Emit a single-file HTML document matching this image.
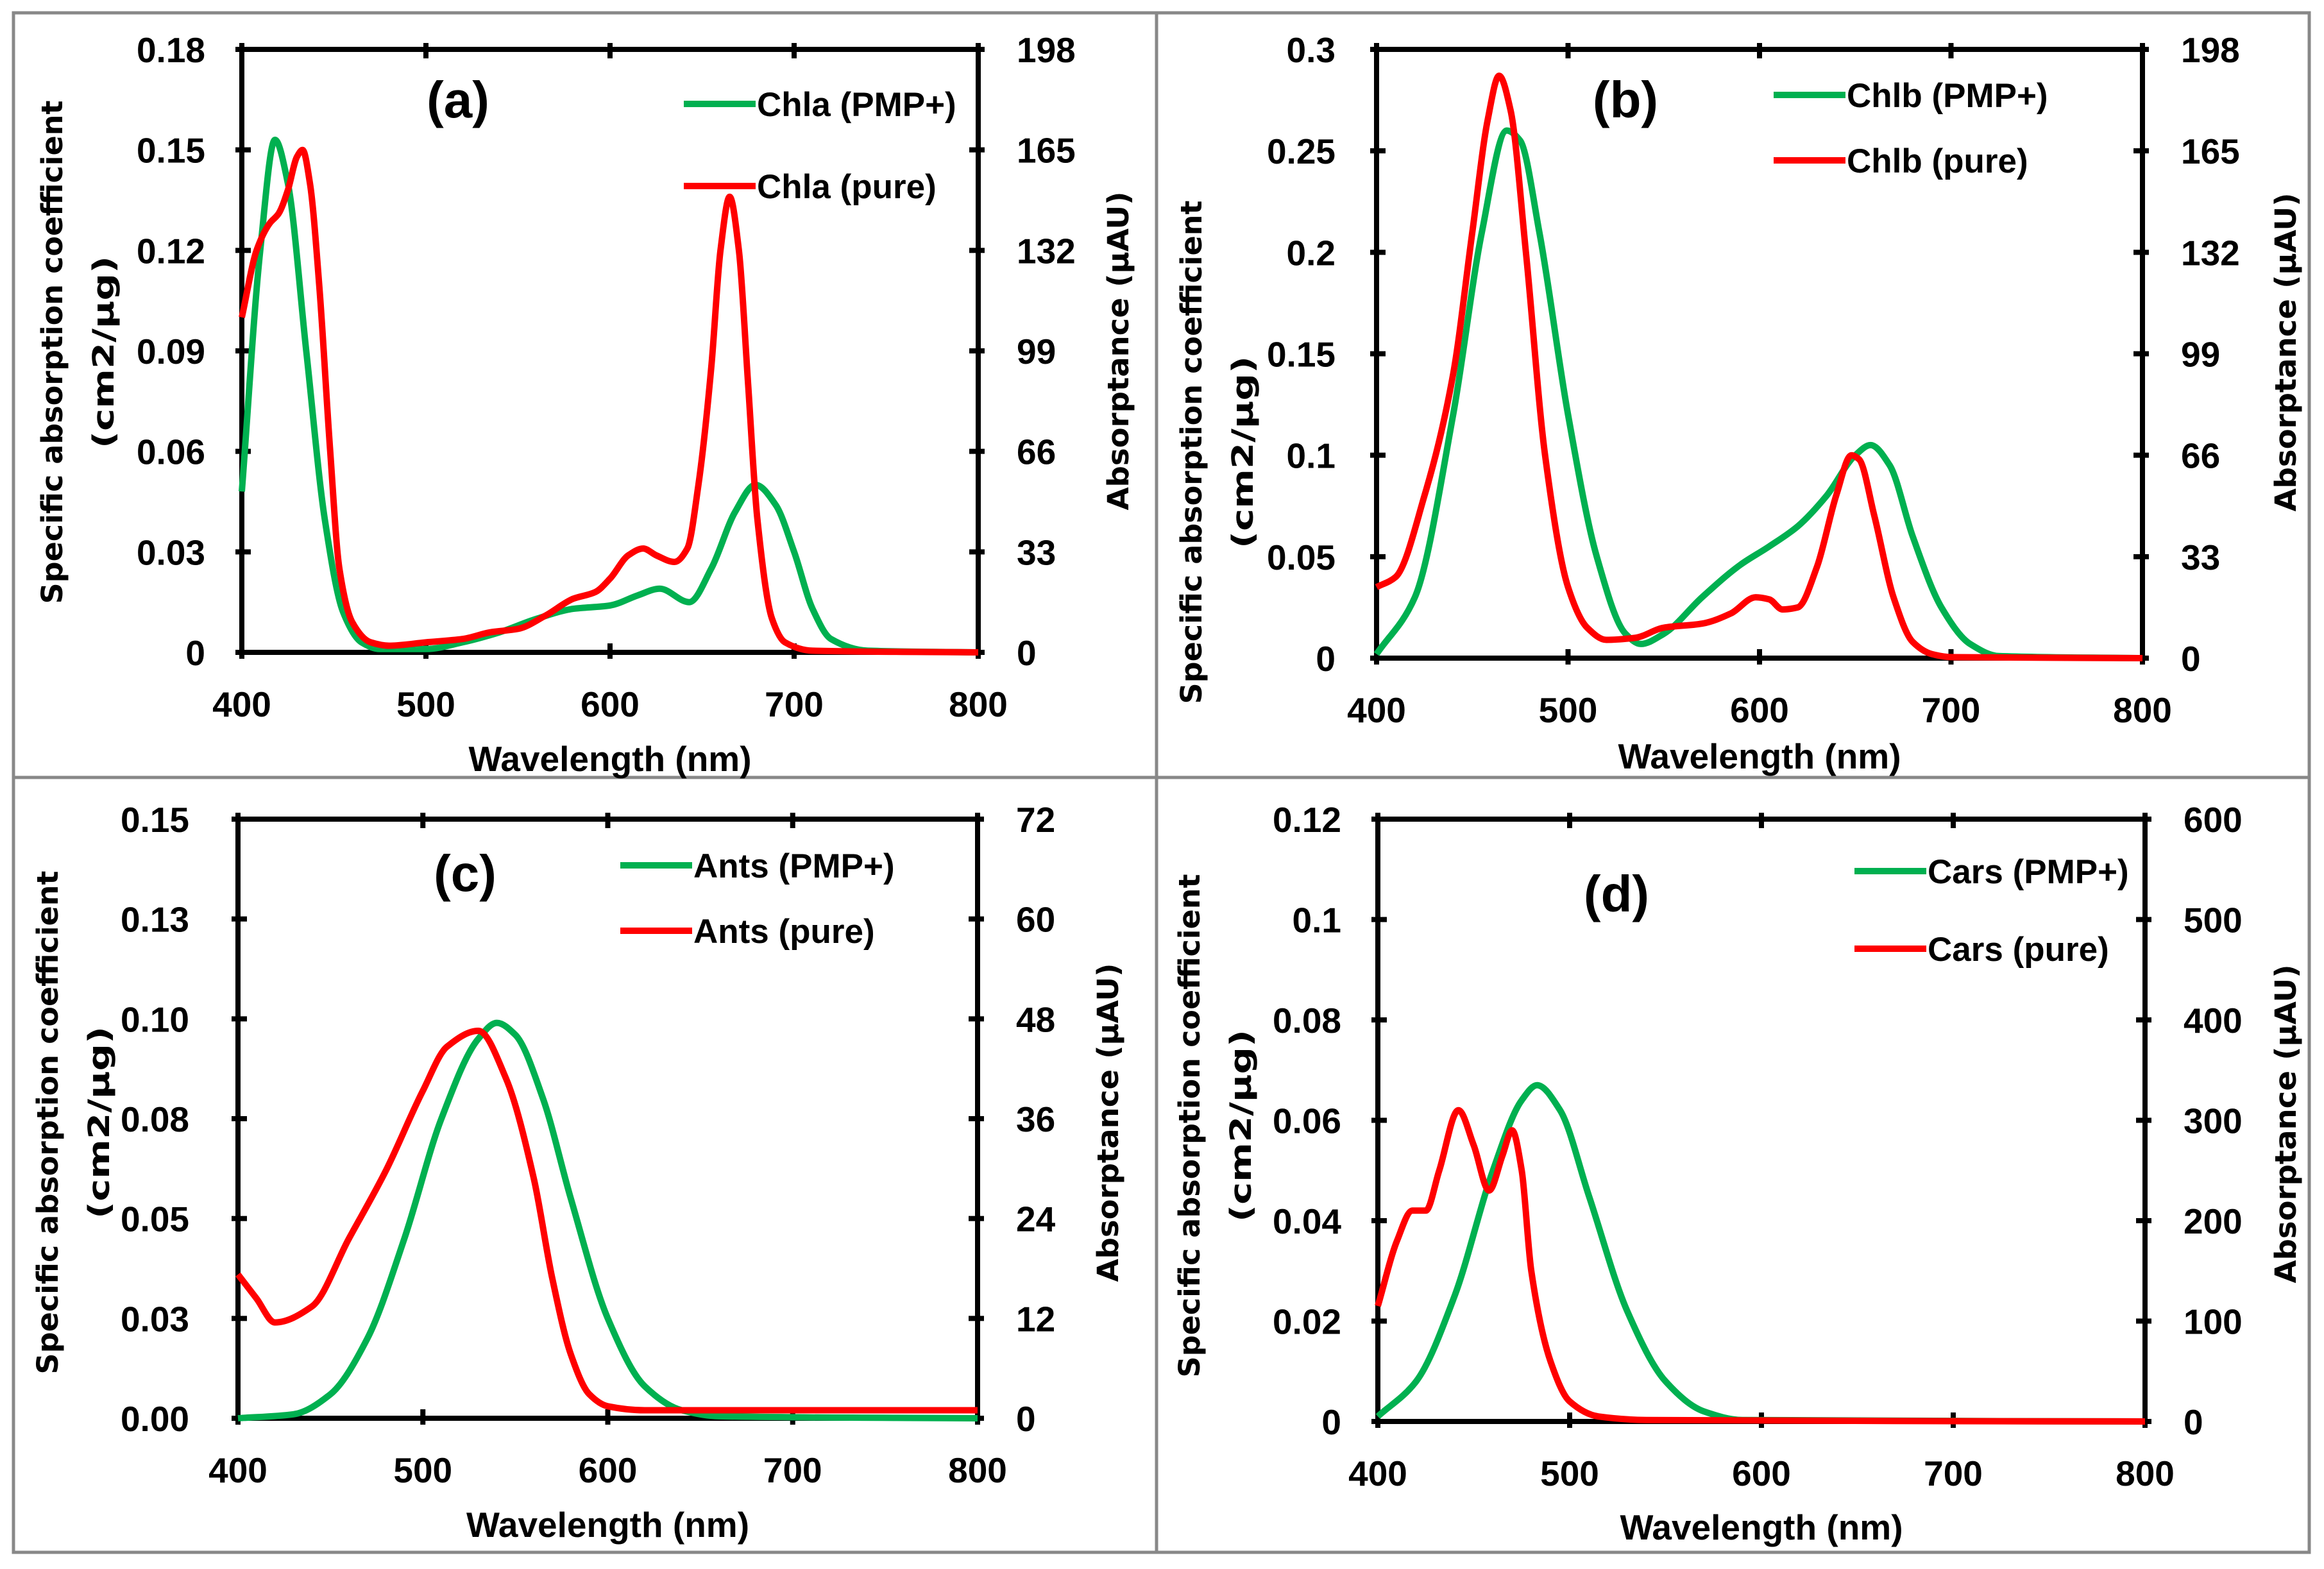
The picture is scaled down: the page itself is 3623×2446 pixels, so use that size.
<!DOCTYPE html>
<html><head><meta charset="utf-8"><style>
html,body{margin:0;padding:0;background:#fff}
svg{display:block}
text{font-family:"Liberation Sans",sans-serif;font-weight:bold;fill:#000}
.yt{font-family:"DejaVu Sans","Liberation Sans",sans-serif}
</style></head><body>
<svg id="fig" width="3623" height="2446" viewBox="0 0 3623 2446" xmlns="http://www.w3.org/2000/svg">
<rect x="0" y="0" width="3623" height="2446" fill="#fff"/>
<rect x="21" y="20" width="3579" height="2400" fill="none" stroke="#888" stroke-width="5"/>
<line x1="1803" y1="20" x2="1803" y2="2420" stroke="#888" stroke-width="5"/>
<line x1="21" y1="1212" x2="3600" y2="1212" stroke="#888" stroke-width="5"/>
</svg>
<script>
// Panel (a) Chla
const aWl = [400,410,418,425,435,445,455,465,475,500,520,540,560,580,600,615,627,643,655,668,679,690,700,710,720,740,800];
const aGreen = [0.048,0.12,0.153,0.14,0.09,0.04,0.012,0.003,0.001,0.001,0.003,0.006,0.010,0.013,0.014,0.017,0.019,0.015,0.025,0.042,0.050,0.044,0.030,0.013,0.004,0.0005,0];
const aRedWl = [400,408,415,420,425,430,433,437,442,448,453,460,470,480,500,520,535,550,565,580,592,600,610,618,625,635,642,648,655,660,665,670,675,680,688,695,710,800];
const aRed = [0.10,0.12,0.128,0.131,0.138,0.148,0.150,0.14,0.11,0.06,0.025,0.009,0.003,0.002,0.003,0.004,0.006,0.007,0.011,0.016,0.018,0.022,0.029,0.031,0.029,0.027,0.031,0.05,0.085,0.12,0.136,0.12,0.08,0.04,0.01,0.003,0.0005,0];
const aLeftTicks = ["0","0.03","0.06","0.09","0.12","0.15","0.18"];
const aRightTicks = ["0","33","66","99","132","165","198"];
// Panel (b) Chlb
const bWl = [400,420,440,455,468,475,485,500,515,530,538,550,570,590,605,620,635,650,658,668,680,695,710,725,800];
const bGreen = [0.002,0.03,0.12,0.21,0.26,0.255,0.21,0.12,0.05,0.012,0.007,0.012,0.03,0.046,0.055,0.065,0.08,0.10,0.105,0.095,0.06,0.025,0.007,0.001,0];
const bRedWl = [400,410,425,440,450,458,464,470,478,488,500,510,520,535,550,570,585,598,605,612,620,630,640,648,652,660,670,680,690,700,800];
const bRed = [0.035,0.04,0.08,0.14,0.21,0.265,0.287,0.27,0.2,0.1,0.035,0.015,0.009,0.01,0.015,0.017,0.022,0.03,0.029,0.024,0.025,0.045,0.08,0.10,0.098,0.07,0.03,0.008,0.002,0.0005,0];
const bLeftTicks = ["0","0.05","0.1","0.15","0.2","0.25","0.3"];
const bRightTicks = ["0","33","66","99","132","165","198"];
// Panel (c) Ants
const cWl = [400,430,450,470,490,510,530,540,550,565,580,600,620,640,660,800];
const cGreen = [0,0.001,0.006,0.02,0.045,0.075,0.095,0.099,0.096,0.08,0.055,0.025,0.008,0.002,0.0005,0];
const cRedWl = [400,410,420,440,460,480,500,513,530,545,560,570,580,590,600,620,800];
const cRed = [0.036,0.03,0.024,0.028,0.045,0.062,0.082,0.093,0.097,0.085,0.06,0.035,0.016,0.006,0.003,0.002,0.002];
const cLeftTicks = ["0.00","0.03","0.05","0.08","0.10","0.13","0.15"];
const cRightTicks = ["0","12","24","36","48","60","72"];
// Panel (d) Cars
const dWl = [400,420,440,460,475,483,495,510,530,550,570,590,800];
const dGreen = [0.001,0.008,0.025,0.05,0.064,0.067,0.062,0.045,0.022,0.008,0.002,0.0003,0];
const dRedWl = [400,410,418,425,432,442,450,458,465,470,475,480,490,500,515,540,800];
const dRed = [0.023,0.036,0.042,0.042,0.05,0.062,0.055,0.046,0.053,0.058,0.05,0.03,0.012,0.004,0.001,0.0003,0];
const dLeftTicks = ["0","0.02","0.04","0.06","0.08","0.1","0.12"];
const dRightTicks = ["0","100","200","300","400","500","600"];
const xTicks = ["400","500","600","700","800"];

const NS = "http://www.w3.org/2000/svg";
const svg = document.getElementById('fig');
function mk(tag, attrs, parent){const e=document.createElementNS(NS,tag);for(const k in attrs)e.setAttribute(k,attrs[k]);(parent||svg).appendChild(e);return e;}
function smoothPath(pts){
  const n=pts.length, h=[], s=[], m=new Array(n);
  for(let i=0;i<n-1;i++){h[i]=pts[i+1][0]-pts[i][0];s[i]=(pts[i+1][1]-pts[i][1])/h[i];}
  m[0]=s[0];m[n-1]=s[n-2];
  for(let i=1;i<n-1;i++){
    if(s[i-1]*s[i]<=0) m[i]=0;
    else{const w1=2*h[i]+h[i-1],w2=h[i]+2*h[i-1];m[i]=(w1+w2)/(w1/s[i-1]+w2/s[i]);}
  }
  let d="M"+pts[0][0].toFixed(1)+","+pts[0][1].toFixed(1);
  for(let i=0;i<n-1;i++){
    const x0=pts[i][0],y0=pts[i][1],x1=pts[i+1][0],y1=pts[i+1][1],dx=h[i]/3;
    d+=" C"+(x0+dx).toFixed(1)+","+(y0+m[i]*dx).toFixed(1)+" "+(x1-dx).toFixed(1)+","+(y1-m[i+1]*dx).toFixed(1)+" "+x1.toFixed(1)+","+y1.toFixed(1);
  }
  return d;
}
function panel(cfg){
  const g=mk('g',{});
  
  
  const L=cfg.L,R=cfg.R,T=cfg.T,B=cfg.B;
  const xs=w=>L+(w-400)/400*(R-L);
  const ys=v=>B-v/cfg.ymax*(B-T);
  for(let i=0;i<cfg.left.length;i++){
    const y=T+(B-T)*(1-i/(cfg.left.length-1));
    const tk=mk('line',{x1:L-10,y1:y,x2:L+14,y2:y,stroke:'#000','stroke-width':8},g);
    
    
    const tk2=mk('line',{x1:R-14,y1:y,x2:R+10,y2:y,stroke:'#000','stroke-width':8},g);
    
    
    const t1=mk('text',{x:L-cfg.lo,y:y+20,'text-anchor':'end','font-size':55},g);
    t1.textContent=cfg.left[i];
    
    
    const t2=mk('text',{x:R+60,y:y+20,'text-anchor':'start','font-size':55},g);
    t2.textContent=cfg.right[i];
    
    
  }
  for(let i=0;i<xTicks.length;i++){
    const x=xs(+xTicks[i]);
    const tk=mk('line',{x1:x,y1:B+10,x2:x,y2:B-14,stroke:'#000','stroke-width':8},g);
    
    
    const tk2=mk('line',{x1:x,y1:T-10,x2:x,y2:T+14,stroke:'#000','stroke-width':8},g);
    
    
    const t=mk('text',{x:x,y:B+100,'text-anchor':'middle','font-size':55},g);
    t.textContent=xTicks[i];
    
    
  }
  const frame=mk('rect',{x:L,y:T,width:R-L,height:B-T,fill:'none',stroke:'#000','stroke-width':8},g);
  
  
  const gp=mk('path',{d:smoothPath(cfg.gwl.map((w,i)=>[xs(w),ys(cfg.g[i])])),fill:'none',stroke:'#00B050','stroke-width':10,'stroke-linejoin':'round'},g);
  
  
  const rp=mk('path',{d:smoothPath(cfg.rwl.map((w,i)=>[xs(w),ys(cfg.r[i])])),fill:'none',stroke:'#FF0000','stroke-width':10,'stroke-linejoin':'round'},g);
  
  
  const lg=mk('line',{x1:cfg.lx,y1:cfg.ly1,x2:cfg.lx+112,y2:cfg.ly1,stroke:'#00B050','stroke-width':10},g);
  
  
  const lt=mk('text',{x:cfg.lx+114,y:cfg.ly1+19,'font-size':53},g);
  lt.textContent=cfg.name+' (PMP+)';
  
  
  const lr=mk('line',{x1:cfg.lx,y1:cfg.ly2,x2:cfg.lx+112,y2:cfg.ly2,stroke:'#FF0000','stroke-width':10},g);
  
  
  const lrt=mk('text',{x:cfg.lx+114,y:cfg.ly2+19,'font-size':53},g);
  lrt.textContent=cfg.name+' (pure)';
  
  
  const pl=mk('text',{x:cfg.px,y:cfg.py+28,'text-anchor':'middle','font-size':80},g);
  pl.textContent='('+cfg.id+')';
  
  
  const xt=mk('text',{x:(L+R)/2,y:cfg.xty,'text-anchor':'middle','font-size':55},g);
  xt.textContent='Wavelength (nm)';
  
  
  const cy=cfg.tcy;
  const y1=mk('text',{class:'yt',x:0,y:0,'text-anchor':'middle','font-size':45,textLength:785,lengthAdjust:'spacingAndGlyphs',transform:'translate('+(cfg.t1x+16)+','+cy+') rotate(-90)'},g);
  y1.textContent='Specific absorption coefficient';
  
  
  const y2=mk('text',{class:'yt',x:0,y:0,'text-anchor':'middle','font-size':45,textLength:300,lengthAdjust:'spacingAndGlyphs',transform:'translate('+(cfg.t1x+96)+','+cy+') rotate(-90)'},g);
  y2.textContent='(cm2/μg)';
  
  
  const y3=mk('text',{class:'yt',x:0,y:0,'text-anchor':'middle','font-size':45,textLength:497,lengthAdjust:'spacingAndGlyphs',transform:'translate('+(cfg.rtx+16)+','+cfg.rcy+') rotate(-90)'},g);
  y3.textContent='Absorptance (μAU)';
  
  
}
panel({id:'a',name:'Chla',L:377,R:1525,T:77,B:1017,ymax:0.18,gwl:aWl,g:aGreen,rwl:aRedWl,r:aRed,left:aLeftTicks,right:aRightTicks,lo:57,lx:1066,ly1:162,ly2:290,px:714,py:155,t1x:81,tcy:549,rtx:1743,rcy:547,xty:1202});
panel({id:'b',name:'Chlb',L:2146,R:3340,T:77,B:1026,ymax:0.3,gwl:bWl,g:bGreen,rwl:bRedWl,r:bRed,left:bLeftTicks,right:bRightTicks,lo:64,lx:2765,ly1:148,ly2:250,px:2534,py:155,t1x:1857,tcy:705,rtx:3563,rcy:549,xty:1198});
panel({id:'c',name:'Ants',L:371,R:1524,T:1277,B:2211,ymax:0.15,gwl:cWl,g:cGreen,rwl:cRedWl,r:cRed,left:cLeftTicks,right:cRightTicks,lo:76,lx:967,ly1:1349,ly2:1451,px:725,py:1361,t1x:74,tcy:1750,rtx:1727,rcy:1750,xty:2396});
panel({id:'d',name:'Cars',L:2148,R:3344,T:1277,B:2216,ymax:0.12,gwl:dWl,g:dGreen,rwl:dRedWl,r:dRed,left:dLeftTicks,right:dRightTicks,lo:57,lx:2891,ly1:1358,ly2:1479,px:2520,py:1393,t1x:1854,tcy:1755,rtx:3563,rcy:1752,xty:2400});
</script>
</body></html>
